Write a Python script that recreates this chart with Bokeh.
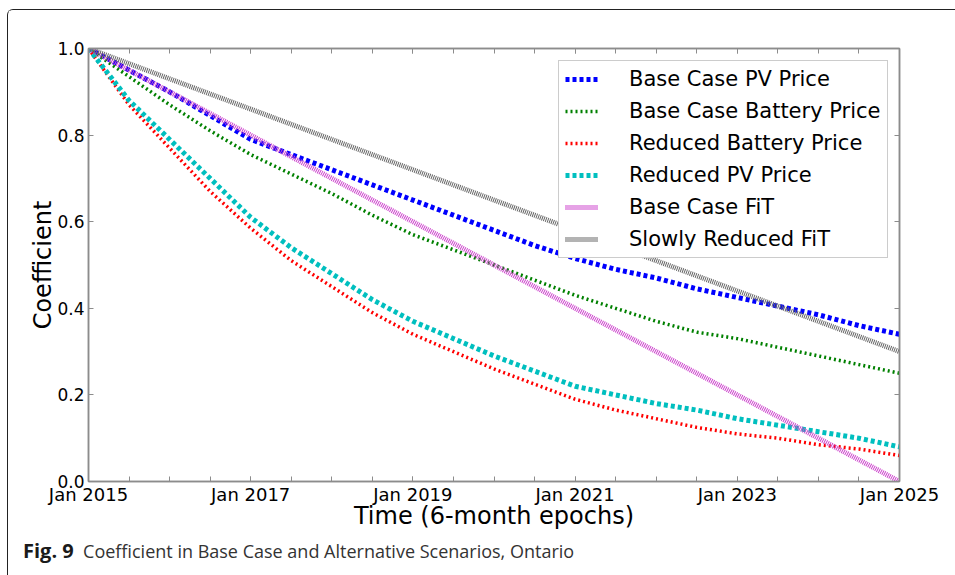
from bokeh.plotting import figure
from bokeh.models import (FixedTicker, LinearAxis, Legend, LegendItem, Range1d, Div,
                          GlobalInlineStyleSheet)
from bokeh.layouts import column
from bokeh.embed import file_html
from bokeh.resources import INLINE

# Half-year epochs, Jan 2015 .. Jan 2025
epochs = [2015.0, 2015.5, 2016.0, 2016.5, 2017.0, 2017.5, 2018.0, 2018.5,
          2019.0, 2019.5, 2020.0, 2020.5, 2021.0, 2021.5, 2022.0, 2022.5,
          2023.0, 2023.5, 2024.0, 2024.5, 2025.0]

base_pv_price = [1.00, 0.95, 0.90, 0.845, 0.79, 0.755, 0.72, 0.685, 0.65, 0.615,
                 0.58, 0.545, 0.515, 0.49, 0.47, 0.445, 0.425, 0.405, 0.385,
                 0.36, 0.34]
base_battery_price = [1.00, 0.935, 0.87, 0.81, 0.755, 0.71, 0.665, 0.615, 0.57,
                      0.535, 0.50, 0.465, 0.43, 0.40, 0.37, 0.345, 0.33, 0.31,
                      0.29, 0.27, 0.25]
reduced_battery_price = [1.00, 0.87, 0.77, 0.67, 0.585, 0.51, 0.45, 0.39, 0.34,
                         0.30, 0.26, 0.225, 0.19, 0.165, 0.145, 0.125, 0.11,
                         0.10, 0.085, 0.075, 0.06]
reduced_pv_price = [1.00, 0.88, 0.79, 0.70, 0.61, 0.54, 0.48, 0.42, 0.37, 0.33,
                    0.29, 0.255, 0.22, 0.20, 0.18, 0.165, 0.145, 0.13, 0.115,
                    0.10, 0.08]
base_case_fit = [1.00, 0.95, 0.90, 0.85, 0.80, 0.75, 0.70, 0.65, 0.60, 0.55,
                 0.50, 0.45, 0.40, 0.35, 0.30, 0.25, 0.20, 0.15, 0.10, 0.05,
                 0.00]
slowly_reduced_fit = [1.00, 0.965, 0.93, 0.895, 0.86, 0.825, 0.79, 0.755, 0.72,
                      0.685, 0.65, 0.615, 0.58, 0.545, 0.51, 0.475, 0.44, 0.405,
                      0.37, 0.335, 0.30]

series_names = ["Base Case PV Price", "Base Case Battery Price",
                "Reduced Battery Price", "Reduced PV Price",
                "Base Case FiT", "Slowly Reduced FiT"]

label_years = [2015, 2017, 2019, 2021, 2023, 2025]
x_tick_labels = ["Jan 2015", "Jan 2017", "Jan 2019", "Jan 2021", "Jan 2023", "Jan 2025"]
y_ticks = [0.0, 0.2, 0.4, 0.6, 0.8, 1.0]
y_tick_labels = ["0.0", "0.2", "0.4", "0.6", "0.8", "1.0"]

caption_tag = "Fig. 9"
caption_text = "Coefficient in Base Case and Alternative Scenarios, Ontario"

FONT = "DejaVu Sans"
SPINE = "#8c8c8c"

p = figure(width=944, height=522, output_backend="svg", toolbar_location=None,
           x_range=Range1d(2015, 2025), y_range=Range1d(0, 1),
           min_border_left=80, min_border_right=53, min_border_top=38,
           min_border_bottom=51, background_fill_color="white",
           border_fill_color="white")
p.xgrid.grid_line_color = None
p.ygrid.grid_line_color = None
p.outline_line_color = SPINE
p.outline_line_width = 1.5

x_ticker = FixedTicker(ticks=label_years, minor_ticks=epochs)
y_ticker = FixedTicker(ticks=y_ticks)


def style_axis(ax, show_labels):
    ax.axis_line_color = SPINE
    ax.axis_line_width = 1.5
    ax.major_tick_in = 5
    ax.major_tick_out = 0
    ax.minor_tick_in = 5
    ax.minor_tick_out = 0
    ax.major_tick_line_color = SPINE
    ax.minor_tick_line_color = SPINE
    if not show_labels:
        ax.major_label_text_font_size = "0px"
        ax.major_label_text_color = None


xa = p.xaxis[0]
xa.ticker = x_ticker
xa.major_label_overrides = dict(zip(label_years, x_tick_labels))
xa.major_label_text_font = FONT
xa.major_label_text_font_size = "18px"
xa.major_label_text_color = "black"
xa.major_label_standoff = 2
xa.axis_label = "Time (6-month epochs)"
xa.axis_label_text_font = FONT
xa.axis_label_text_font_size = "24px"
xa.axis_label_text_font_style = "normal"
xa.axis_label_text_color = "black"
xa.axis_label_standoff = -6
style_axis(xa, True)

ya = p.yaxis[0]
ya.ticker = y_ticker
ya.major_label_overrides = dict(zip(y_ticks, y_tick_labels))
ya.major_label_text_font = FONT
ya.major_label_text_font_size = "17px"
ya.major_label_text_color = "black"
ya.major_label_standoff = 4
ya.axis_label = "Coefficient"
ya.axis_label_text_font = FONT
ya.axis_label_text_font_size = "24px"
ya.axis_label_text_font_style = "normal"
ya.axis_label_text_color = "black"
ya.axis_label_standoff = -3
style_axis(ya, True)

top_axis = LinearAxis(ticker=x_ticker)
style_axis(top_axis, False)
p.add_layout(top_axis, "above")
right_axis = LinearAxis(ticker=y_ticker)
style_axis(right_axis, False)
p.add_layout(right_axis, "right")

# (data, colour, width, dash) per scenario, drawn in legend order
styles = [
    (base_pv_price, "#0000ff", 5, "4 3"),
    (base_battery_price, "#008000", 3.5, "2 3"),
    (reduced_battery_price, "#ff0000", 3.5, "2 3"),
    (reduced_pv_price, "#00bfbf", 5, "4 3"),
    (base_case_fit, "#cc44cc", 5, "1 1"),
    (slowly_reduced_fit, "#666666", 5, "1 1"),
]

items = []
for name, (vals, color, lw, dash) in zip(series_names, styles):
    r = p.line(epochs, vals, line_color=color, line_width=lw, line_dash=dash)
    items.append(LegendItem(label=name, renderers=[r]))

legend = Legend(items=items, location=(470, 223), padding=6, spacing=8,
                glyph_width=33, glyph_height=22, label_height=22,
                label_standoff=31, margin=0,
                label_text_font=FONT, label_text_font_size="21px",
                label_text_color="black", border_line_color="#999999",
                border_line_width=1.2, background_fill_color="white",
                background_fill_alpha=1.0)
p.add_layout(legend, "center")

caption = Div(
    text=f'<b style="font-weight:700;color:#1a1a1a;font-size:20px">{caption_tag}</b>'
         f'&nbsp;&nbsp;<span style="color:#333333">{caption_text}</span>',
    width=944, height=38,
    styles={"font-family": "Open Sans", "font-size": "18px",
            "padding-left": "10px", "padding-top": "0px",
            "overflow": "hidden"})

page_css = GlobalInlineStyleSheet(css="html, body { margin: 0; overflow: hidden; }")

page = column(p, caption, spacing=0, margin=(9, 0, 0, 7),
              stylesheets=[page_css],
              styles={"border-top": "1.5px solid #222222",
                      "border-left": "1.5px solid #222222",
                      "border-top-left-radius": "6px",
                      "background-color": "white"})

open("out.html", "w").write(file_html(page, INLINE))
